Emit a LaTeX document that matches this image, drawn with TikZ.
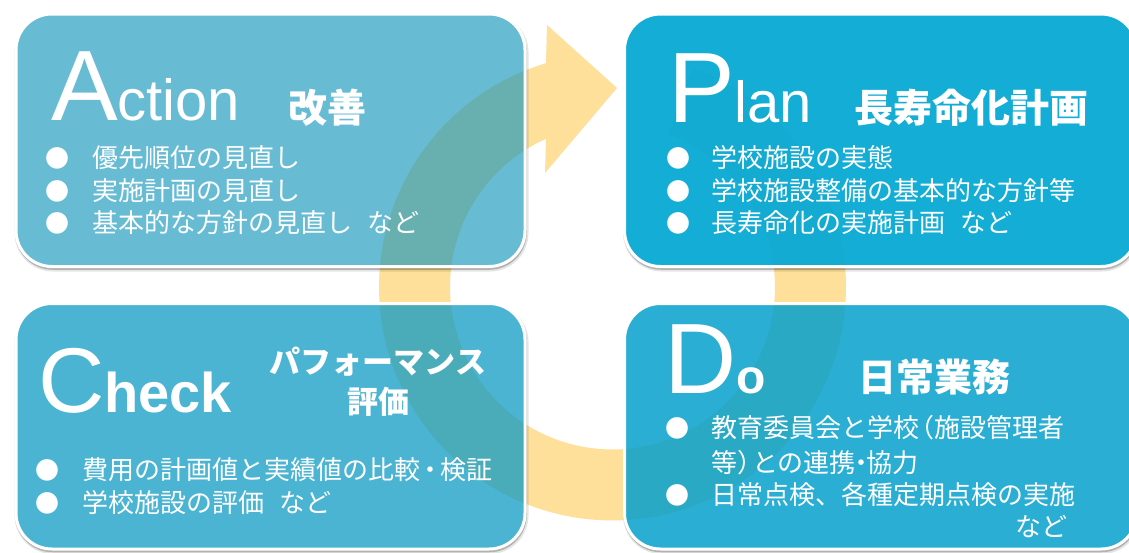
\documentclass[tikz,border=0pt]{standalone}
\usepackage{fontspec}
\setmainfont{Liberation Sans}
\newfontfamily\jp{Noto Sans CJK JP}
\definecolor{ringY}{RGB}{254,224,154}
\definecolor{colA}{RGB}{15,149,188}
\definecolor{colP}{RGB}{7,169,212}
\definecolor{colC}{RGB}{14,155,196}
\definecolor{colD}{RGB}{6,160,204}
\newcommand\pdcabox[6]{%
  \begin{scope}[even odd rule]
    \clip (-20,-20) rectangle (1160,580) [rounded corners=36pt] (#1,#2) rectangle (#3,#4);
    \draw[black, draw opacity=0.10, line width=5pt, rounded corners=36pt, shift={(1,2.5)}] (#1,#2) rectangle (#3,#4);
    \draw[black, draw opacity=0.22, line width=2.5pt, rounded corners=36pt, shift={(0.5,2)}] (#1,#2) rectangle (#3,#4);
  \end{scope}
  \fill[#5, fill opacity=#6, rounded corners=36pt] (#1,#2) rectangle (#3,#4);
  \draw[white, line width=3pt, rounded corners=36pt] (#1,#2) rectangle (#3,#4);
}
\newcommand\tightL{\hspace{-0.42em}}
\newcommand\tightM{\hspace{-0.3em}}
\newcommand\tightS{\hspace{-0.1em}}
\tikzset{
  wt/.style={inner sep=0pt, outer sep=0pt, text=white},
  bigl/.style={wt, anchor=base west, font=\fontsize{100}{100}\selectfont},
  midl/.style={wt, anchor=base west, font=\fontsize{58}{58}\selectfont},
  jtitle/.style={wt, anchor=west, font=\jp\bfseries\fontsize{39}{39}\selectfont},
  item/.style={wt, anchor=west, font=\jp\fontsize{26}{26}\selectfont},
  bul/.style={wt, anchor=center, font=\jp\fontsize{24}{24}\selectfont},
}
\begin{document}
\begin{tikzpicture}[x=1pt,y=-1pt]
\useasboundingbox (0,0) rectangle (1129,552);
\clip (0,0) rectangle (1129,552);
\fill[white] (0,0) rectangle (1129,552);
% circular arrow
\fill[ringY] (547,25) -- (617,88) -- (545,173) -- (546,138.7)
  -- plot[domain=245.85:-70,samples=140] ({612.5+162.5*cos(\x)},{287+162.5*sin(\x)})
  -- plot[domain=-70:253.45,samples=140] ({612.5+233.5*cos(\x)},{287+233.5*sin(\x)})
  -- cycle;
% boxes
\pdcabox{16}{14}{525}{266.5}{colA}{0.63}
\pdcabox{624.5}{14}{1137}{266.5}{colP}{0.95}
\pdcabox{16}{303.5}{525}{549}{colC}{0.75}
\pdcabox{624.5}{303.5}{1137}{549}{colD}{0.85}
% Action
\node[bigl] (aA) at (51,120) {A};
\node[midl] (actn) at (aA.base east) {ction};
\node[jtitle] (akz) at (288,107.5) {改善};
\node[bul] (ab1) at (57,158) {●};
\node[item] (ai1) at (92,158) {優先順位の見直し};
\node[bul] (ab2) at (57,191) {●};
\node[item] (ai2) at (92,191) {実施計画の見直し};
\node[bul] (ab3) at (57,223) {●};
\node[item] (ai3) at (92,223) {基本的な方針の見直し\hspace{0.6em}など};
% Plan
\node[bigl] (pP) at (668,122) {P};
\node[midl] (plan) at (pP.base east) {lan};
\node[jtitle] (pj) at (854,108) {長寿命化計画};
\node[bul] (pb1) at (678,158) {●};
\node[item] (pi1) at (711,158) {学校施設の実態};
\node[bul] (pb2) at (678,191) {●};
\node[item] (pi2) at (711,191) {学校施設整備の基本的な方針等};
\node[bul] (pb3) at (678,223) {●};
\node[item] (pi3) at (711,223) {長寿命化の実施計画\hspace{0.6em}など};
% Check
\node[bigl, font=\fontsize{92}{92}\selectfont] (cC) at (38,412) {C};
\node[midl, font=\bfseries\fontsize{56}{56}\selectfont] (heck) at (cC.base east) {heck};
\node[wt, anchor=center, align=center, font=\jp\bfseries\fontsize{31}{40}\selectfont] (cj) at (378,382) {パフォーマンス\\評価};
\node[bul] (cb1) at (47,470) {●};
\node[item] (ci1) at (82,470) {費用の計画値と実績値の比較\tightS・\tightS 検証};
\node[bul] (cb2) at (47,503) {●};
\node[item] (ci2) at (82,503) {学校施設の評価\hspace{0.6em}など};
% Do
\node[bigl] (dD) at (664,393) {D};
\node[midl, font=\bfseries\fontsize{48}{48}\selectfont] (dO) at (dD.base east) {o};
\node[jtitle, font=\jp\bfseries\fontsize{38}{38}\selectfont] (dj) at (858,377) {日常業務};
\node[bul] (db1) at (677,428) {●};
\node[item] (di1) at (711,428) {教育委員会と学校\tightL（施設管理者};
\node[item] (di2) at (711,463) {等）\tightL との連携\tightM・\tightM 協力};
\node[bul] (db2) at (677,495) {●};
\node[item] (di3) at (711,495) {日常点検、各種定期点検の実施};
\node[item, anchor=east] (di4) at (1067,527) {など};
\end{tikzpicture}
\end{document}
